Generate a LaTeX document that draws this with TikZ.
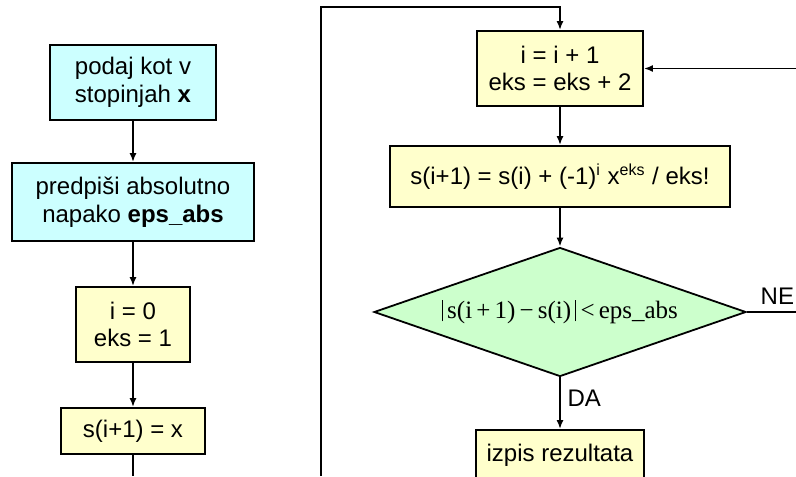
\documentclass[tikz,border=0pt]{standalone}
\usepackage{fontspec}
\setmainfont{Liberation Sans}
\newfontfamily\formulafont{Liberation Serif}
\usetikzlibrary{arrows.meta,shapes.geometric}
\definecolor{ink}{HTML}{000000}
\definecolor{cyanbox}{HTML}{CCFFFF}
\definecolor{yellowbox}{HTML}{FFFFCC}
\definecolor{greenbox}{HTML}{CCFFCC}
\newcommand\absbar{\rule[-1.5pt]{.5pt}{10.5pt}}

\begin{document}
\begin{tikzpicture}[x=.5pt,y=-.5pt,>={Latex[length=4.5pt,width=3.5pt]},line width=.9pt,every node/.style={font=\fontsize{12}{13.8}\selectfont,text=ink},box/.style={draw=ink,align=center,inner sep=0pt},input/.style={box,fill=cyanbox},calc/.style={box,fill=yellowbox},test/.style={draw=ink,fill=greenbox,diamond,aspect=2.9,inner sep=0pt,minimum width=186pt,minimum height=64.5pt},flow/.style={->,ink}]
\path[use as bounding box] (0,0) rectangle (796,476);

\node[input,minimum width=83pt,minimum height=37.5pt] (a) at (133,82.5) {podaj kot v\\stopinjah \textbf{x}};
\node[input,minimum width=121pt,minimum height=39pt] (b) at (133,202) {predpiši absolutno\\napako \textbf{eps\_abs}};
\node[calc,minimum width=57pt,minimum height=37.5pt] (c) at (133,324.5) {i = 0\\eks = 1};
\node[calc,minimum width=72pt,minimum height=23pt] (d) at (133,431) {s(i+1) = x};
\coordinate (dout) at (133,476);
\coordinate (loopbot) at (321,476);
\coordinate (looptop) at (321,7);

\node[calc,minimum width=83pt,minimum height=37.5pt] (e) at (560,68.5) {i = i + 1\\eks = eks + 2};
\node[calc,minimum width=170pt,minimum height=30.5pt] (f) at (560,176.5) {s(i+1) = s(i) + (-1)\textsuperscript{i} x\textsuperscript{eks} / eks!};
\node[test] (g) at (560,312) {\formulafont\fontsize{12.5}{14}\selectfont\absbar\,s(i\,+\,1)\,−\,s(i)\,\absbar\,<\,eps\_abs\hspace{6pt}};
\node[calc,minimum width=84pt,minimum height=25pt] (h) at (560,455) {izpis rezultata};
\coordinate (back) at (796,68.5);
\coordinate (neout) at (796,312);

\draw[flow] (a)--(b);
\draw[flow] (b)--(c);
\draw[flow] (c)--(d);
\draw[ink] (d.south)--(dout);
\draw[flow] (loopbot)--(looptop)-|(e.north);
\draw[flow] (back)--(e.east);
\draw[flow] (e)--(f);
\draw[flow] (f)--(g);
\draw[flow] (g.south)--node[right,pos=.4] {DA} (h.north);
\draw[ink] (g.east)--node[above,pos=.62] {NE} (neout);

\end{tikzpicture}
\end{document}
